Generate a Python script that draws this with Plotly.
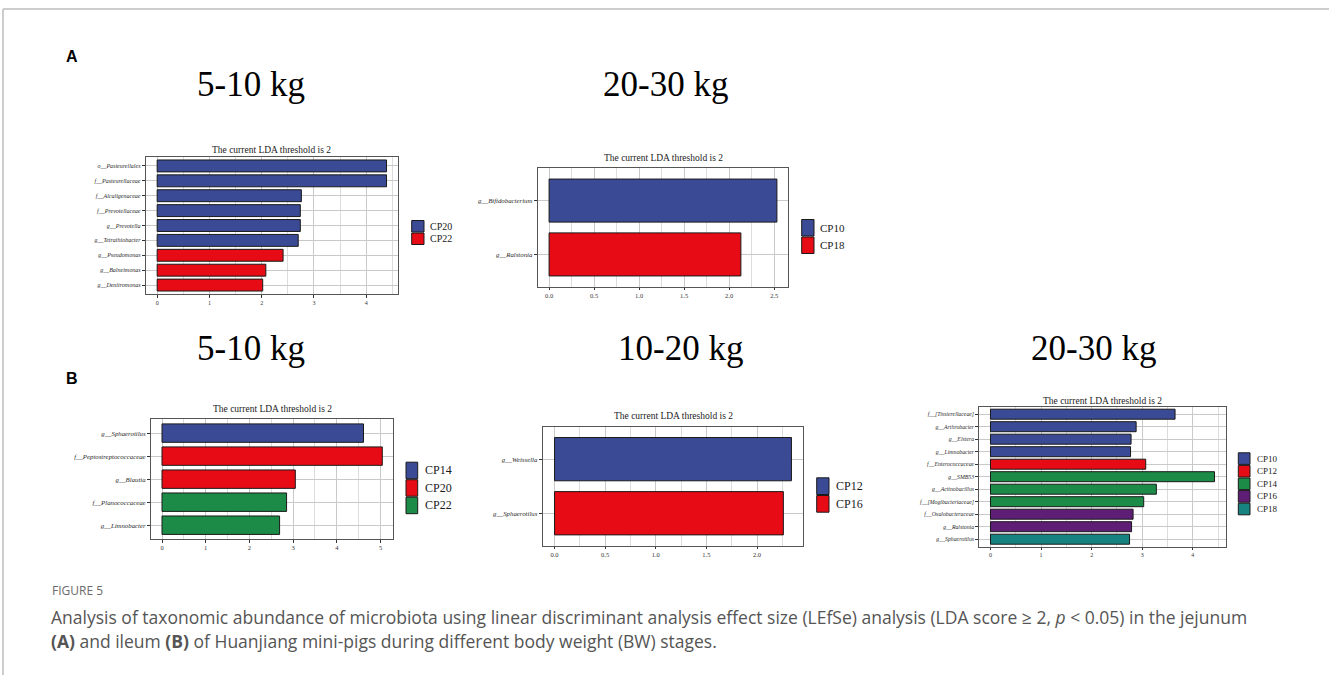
import plotly.graph_objects as go

W, H = 1329, 675

# ---------------- data ----------------
# Panel A, 5-10 kg
a1_labels = ["o__Pasteurellales", "f__Pasteurellaceae", "f__Alcaligenaceae", "f__Prevotellaceae",
             "g__Prevotella", "g__Tetrathiobacter", "g__Pseudomonas", "g__Balneimonas", "g__Denitromonas"]
a1_values = [4.39, 4.39, 2.76, 2.74, 2.74, 2.70, 2.41, 2.08, 2.02]
a1_groups = ["CP20", "CP20", "CP20", "CP20", "CP20", "CP20", "CP22", "CP22", "CP22"]
a1_legend = ["CP20", "CP22"]

# Panel A, 20-30 kg
a2_labels = ["g__Bifidobacterium", "g__Ralstonia"]
a2_values = [2.53, 2.13]
a2_groups = ["CP10", "CP18"]
a2_legend = ["CP10", "CP18"]

# Panel B, 5-10 kg
b1_labels = ["g__Sphaerotilus", "f__Peptostreptococcaceae", "g__Blautia", "f__Planococcaceae", "g__Limnobacter"]
b1_values = [4.61, 5.04, 3.05, 2.85, 2.69]
b1_groups = ["CP14", "CP20", "CP20", "CP22", "CP22"]
b1_legend = ["CP14", "CP20", "CP22"]

# Panel B, 10-20 kg
b2_labels = ["g__Weissella", "g__Sphaerotilus"]
b2_values = [2.34, 2.26]
b2_groups = ["CP12", "CP16"]
b2_legend = ["CP12", "CP16"]

# Panel B, 20-30 kg
b3_labels = ["f__[Tissierellaceae]", "g__Arthrobacter", "g__Elstera", "g__Limnobacter", "f__Enterococcaceae",
             "g__SMB53", "g__Actinobacillus", "f__[Mogibacteriaceae]", "f__Oxalobacteraceae",
             "g__Ralstonia", "g__Sphaerotilus"]
b3_values = [3.65, 2.88, 2.78, 2.77, 3.07, 4.43, 3.28, 3.03, 2.82, 2.79, 2.75]
b3_groups = ["CP10", "CP10", "CP10", "CP10", "CP12", "CP14", "CP14", "CP14", "CP16", "CP16", "CP18"]
b3_legend = ["CP10", "CP12", "CP14", "CP16", "CP18"]

panel_title = "The current LDA threshold is 2"
stage_titles = ["5-10 kg", "20-30 kg", "5-10 kg", "10-20 kg", "20-30 kg"]

PALETTE = ["#3B4A94", "#E60B14", "#1B8B47", "#5F1E76", "#178381"]

# ---------------- layout config (pixels) ----------------
panels = [
    dict(labels=a1_labels, values=a1_values, groups=a1_groups, legend=a1_legend,
         box=(145.7, 157, 398, 294), dtick=1, fmt="d", ysize=6, xsize=6,
         title_y=149.5, tsize=9.5, stage=(251, 85),
         leg=(411.7, 220, 12.3, 12.5, 10, 428)),
    dict(labels=a2_labels, values=a2_values, groups=a2_groups, legend=a2_legend,
         box=(537.7, 168.3, 788.3, 286.7), dtick=0.5, fmt=".1f", ysize=6.8, xsize=6.5,
         title_y=158, tsize=9.5, stage=(665, 85),
         leg=(801.7, 219, 12.3, 17.5, 11, 818)),
    dict(labels=b1_labels, values=b1_values, groups=b1_groups, legend=b1_legend,
         box=(151, 419.3, 393.3, 539), dtick=1, fmt="d", ysize=6.8, xsize=6.5,
         title_y=409, tsize=9.5, stage=(251, 348),
         leg=(406, 461.7, 11.7, 17.5, 12, 423)),
    dict(labels=b2_labels, values=b2_values, groups=b2_groups, legend=b2_legend,
         box=(542.7, 426.7, 803.3, 545.7), dtick=0.5, fmt=".1f", ysize=6.8, xsize=6.5,
         title_y=416, tsize=9.5, stage=(680, 348),
         leg=(816.7, 477.3, 12.3, 17.7, 12, 834)),
    dict(labels=b3_labels, values=b3_values, groups=b3_groups, legend=b3_legend,
         box=(979.3, 406.7, 1225.7, 546.7), dtick=1, fmt="d", ysize=5.8, xsize=6,
         title_y=400.5, tsize=9.5, stage=(1093, 348),
         leg=(1238.3, 452.3, 11.7, 12.6, 9, 1255)),
]

SERIF = "Liberation Serif, Times New Roman, serif"


def px_x(v):
    return v / W


def px_y(v):
    return 1 - v / H


fig = go.Figure()
shapes = []
annotations = []

for k, p in enumerate(panels, start=1):
    xa = "x" if k == 1 else f"x{k}"
    ya = "y" if k == 1 else f"y{k}"
    cmap = {g: PALETTE[i] for i, g in enumerate(p["legend"])}
    fig.add_trace(go.Bar(
        x=p["values"], y=p["labels"], orientation="h", width=0.8,
        marker=dict(color=[cmap[g] for g in p["groups"]], line=dict(color="#1a1a1a", width=1)),
        xaxis=xa, yaxis=ya, showlegend=False, hoverinfo="x+y",
    ))
    l, t, r, b = p["box"]
    vmax = max(p["values"])
    n = len(p["labels"])
    xkey = "xaxis" if k == 1 else f"xaxis{k}"
    ykey = "yaxis" if k == 1 else f"yaxis{k}"
    fig.layout[xkey] = dict(
        domain=[px_x(l), px_x(r)], anchor=ya, range=[-0.05 * vmax, 1.05 * vmax],
        dtick=p["dtick"], tick0=0, tickformat=p["fmt"],
        showgrid=True, gridcolor="#c9c9c9", gridwidth=1,
        minor=dict(dtick=p["dtick"] / 2, showgrid=True, gridcolor="#dcdcdc", gridwidth=0.8),
        showline=True, mirror=True, linecolor="#555555", linewidth=1,
        ticks="outside", ticklen=2.5, tickcolor="#333333", tickwidth=0.8,
        tickfont=dict(family=SERIF, size=p["xsize"], color="#333333"),
        zeroline=False, automargin=False, fixedrange=True,
    )
    fig.layout[ykey] = dict(
        domain=[px_y(b), px_y(t)], anchor=xa, type="category",
        categoryorder="array", categoryarray=p["labels"], range=[n - 0.4, -0.6],
        showgrid=True, gridcolor="#c9c9c9", gridwidth=1,
        showline=True, mirror=True, linecolor="#555555", linewidth=1,
        ticks="outside", ticklen=3, tickcolor="#333333", tickwidth=0.8,
        tickfont=dict(family=SERIF, size=p["ysize"], color="#2a2a2a", style="italic"),
        zeroline=False, automargin=False, fixedrange=True,
    )
    # panel title
    annotations.append(dict(
        xref="paper", yref="paper", x=px_x((l + r) / 2), y=px_y(p["title_y"]),
        xanchor="center", yanchor="middle", showarrow=False, text=panel_title,
        font=dict(family=SERIF, size=p["tsize"], color="#1a1a1a"),
    ))
    # stage heading
    sx, sy = p["stage"]
    annotations.append(dict(
        xref="paper", yref="paper", x=px_x(sx), y=px_y(sy),
        xanchor="center", yanchor="middle", showarrow=False, text=stage_titles[k - 1],
        font=dict(family=SERIF, size=35, color="#000000"),
    ))
    # legend
    lx, ltop, bw, bh, lfs, tx = p["leg"]
    for j, g in enumerate(p["legend"]):
        y0 = ltop + j * bh
        shapes.append(dict(
            type="rect", xref="paper", yref="paper",
            x0=px_x(lx), x1=px_x(lx + bw), y0=px_y(y0 + bh - 0.5), y1=px_y(y0 + 0.5),
            fillcolor=cmap[g], line=dict(color="#1a1a1a", width=1),
        ))
        annotations.append(dict(
            xref="paper", yref="paper", x=px_x(tx), y=px_y(y0 + bh / 2),
            xanchor="left", yanchor="middle", showarrow=False, text=g,
            font=dict(family=SERIF, size=lfs, color="#1a1a1a"),
        ))

# panel letters
for letter, (lx, ly) in {"A": (72, 57), "B": (72, 378)}.items():
    annotations.append(dict(
        xref="paper", yref="paper", x=px_x(lx), y=px_y(ly), xanchor="center", yanchor="middle",
        showarrow=False, text=f"<b>{letter}</b>",
        font=dict(family="Liberation Sans, Arial, sans-serif", size=16, color="#000000"),
    ))

# caption
CAP_FONT = "Open Sans, Noto Sans, sans-serif"
annotations.append(dict(
    xref="paper", yref="paper", x=px_x(50), y=px_y(590), xanchor="left", yanchor="middle",
    showarrow=False, text="FIGURE 5", font=dict(family=CAP_FONT, size=12, color="#6a6a6a"),
))
annotations.append(dict(
    xref="paper", yref="paper", x=px_x(49), y=px_y(617), xanchor="left", yanchor="middle",
    showarrow=False,
    text="Analysis of taxonomic abundance of microbiota using linear discriminant analysis effect size "
         "(LEfSe) analysis (LDA score ≥ 2, <i>p</i> &lt; 0.05) in the jejunum",
    font=dict(family=CAP_FONT, size=17.5, color="#555555"),
))
annotations.append(dict(
    xref="paper", yref="paper", x=px_x(49), y=px_y(641), xanchor="left", yanchor="middle",
    showarrow=False,
    text="<b>(A)</b> and ileum <b>(B)</b> of Huanjiang mini-pigs during different body weight (BW) stages.",
    font=dict(family=CAP_FONT, size=17.5, color="#555555"),
))

# outer frame lines
shapes.append(dict(type="line", xref="paper", yref="paper", x0=px_x(3), x1=1, y0=px_y(9), y1=px_y(9),
                   line=dict(color="#bdbdbd", width=1.5)))
shapes.append(dict(type="line", xref="paper", yref="paper", x0=px_x(3), x1=px_x(3), y0=px_y(9), y1=0,
                   line=dict(color="#bdbdbd", width=1.5)))

fig.update_layout(
    width=W, height=H, margin=dict(l=0, r=0, t=0, b=0),
    paper_bgcolor="white", plot_bgcolor="white",
    showlegend=False, shapes=shapes, annotations=annotations,
    font=dict(family=SERIF),
)

fig.write_html("out.html")
